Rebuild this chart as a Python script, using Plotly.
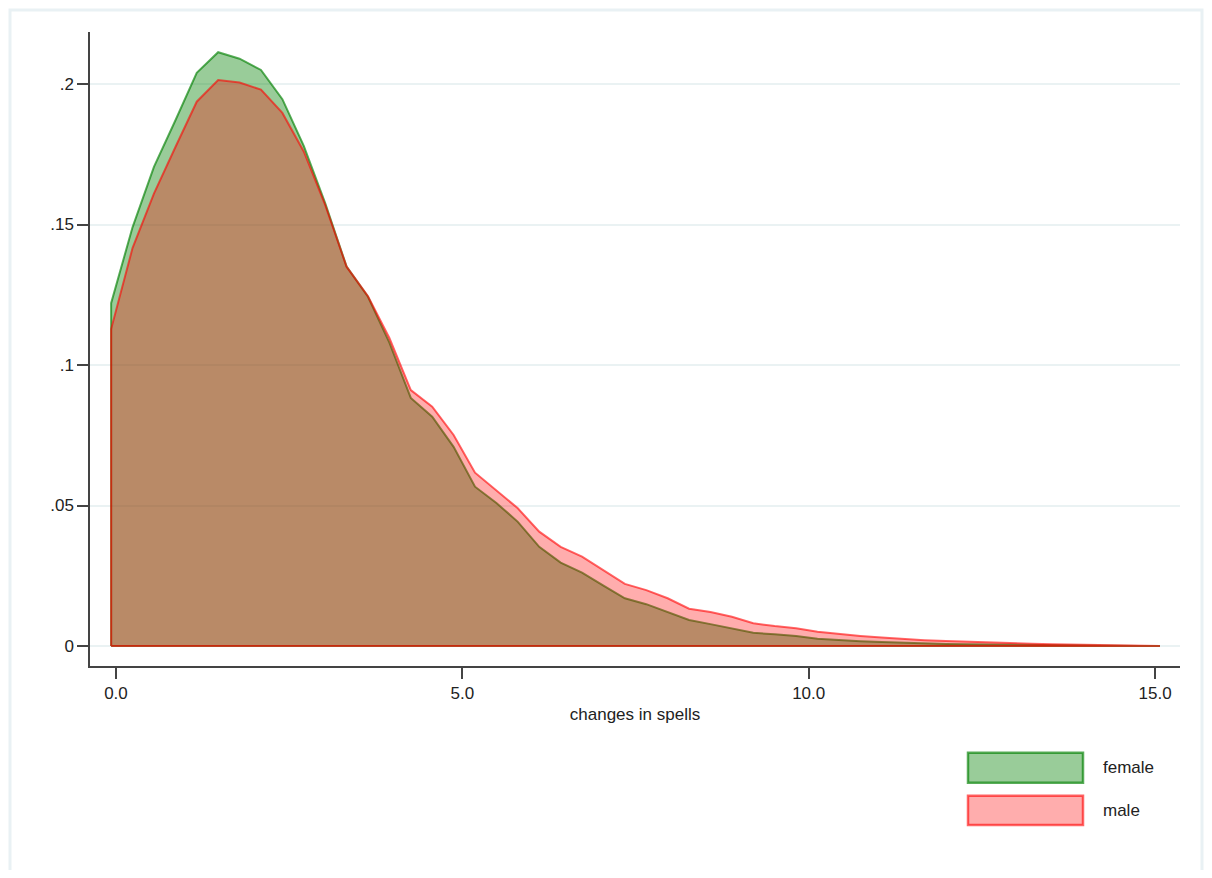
import numpy as np
import plotly.graph_objects as go

# evaluation grid of the density (50 points)
x_start = -0.07
x_step = 0.309
n_points = 50
grid = [round(x_start + x_step * i, 3) for i in range(n_points)]

female = [0.122, 0.149, 0.1705, 0.187, 0.204, 0.2113, 0.209, 0.205, 0.1946, 0.178,
          0.1576, 0.135, 0.1243, 0.108, 0.0883, 0.0816, 0.0709, 0.0567, 0.0509, 0.0442,
          0.0353, 0.0297, 0.0261, 0.0215, 0.017, 0.0149, 0.0122, 0.0093, 0.0078, 0.0063,
          0.0047, 0.0042, 0.0036, 0.0026, 0.0021, 0.0017, 0.0014, 0.0011, 0.0009, 0.0007,
          0.0006, 0.0005, 0.0004, 0.0003, 0.0002, 0.0002, 0.0001, 0.0001, 0.00005, 0.0]

male = [0.1128, 0.1416, 0.161, 0.1775, 0.1937, 0.2014, 0.2005, 0.198, 0.1897, 0.176,
        0.157, 0.135, 0.1245, 0.1096, 0.0911, 0.0852, 0.0751, 0.0617, 0.0555, 0.049,
        0.0407, 0.0353, 0.0318, 0.027, 0.0221, 0.0199, 0.017, 0.0133, 0.0121, 0.0104,
        0.0081, 0.0071, 0.0063, 0.0051, 0.0043, 0.0036, 0.0030, 0.0025, 0.0021, 0.0018,
        0.0015, 0.0012, 0.0010, 0.0008, 0.0006, 0.0005, 0.0003, 0.0002, 0.0001, 0.0]

series_names = ["female", "male"]
x_tickvals = [0, 5, 10, 15]
x_ticktext = ["0.0", "5.0", "10.0", "15.0"]
y_tickvals = [0, 0.05, 0.1, 0.15, 0.2]
y_ticktext = ["0", ".05", ".1", ".15", ".2"]

fills = ["rgba(0,128,0,0.4)", "rgba(255,0,0,0.32)"]
lines = ["rgba(0,128,0,0.65)", "rgba(255,0,0,0.6)"]

FONT = "Liberation Sans, Arial, sans-serif"

fig = go.Figure()
for name, ys, fc, lc in zip(series_names, [female, male], fills, lines):
    px = [grid[0]] + grid + [grid[-1], grid[0]]
    py = [0] + ys + [0, 0]
    fig.add_trace(go.Scatter(x=px, y=py, mode="lines", fill="toself",
                             fillcolor=fc, line=dict(color=lc, width=2),
                             name=name, showlegend=False, hoverinfo="skip"))

# plot area on screen: x 90..1180 px, y 32..666 px (page has 8px body margin)
def px_x(p):
    return (p - 90) / 1090.0

def px_y(p):
    return (666 - p) / 634.0

shapes = []
annotations = []
# legend boxes
leg_boxes = [(752.7, 782.7), (795.7, 825.0)]
for name, fc, lc, (ya, yb) in zip(series_names, fills, lines, leg_boxes):
    shapes.append(dict(type="rect", xref="paper", yref="paper",
                       x0=px_x(968), x1=px_x(1083), y0=px_y(yb), y1=px_y(ya),
                       fillcolor=fc, line=dict(color=lc, width=2.5)))
    annotations.append(dict(text=name, xref="paper", yref="paper",
                            x=px_x(1101), y=px_y((ya + yb) / 2), xanchor="left",
                            yanchor="middle", showarrow=False,
                            font=dict(size=17, color="#222222", family=FONT)))
# outer frame
shapes.append(dict(type="rect", xref="paper", yref="paper",
                   x0=px_x(10), x1=px_x(1202), y0=px_y(900), y1=px_y(10),
                   fillcolor="rgba(0,0,0,0)", line=dict(color="#E9F1F4", width=3),
                   layer="below"))

fig.update_layout(
    width=1196, height=862,
    margin=dict(l=82, r=24, t=24, b=204),
    paper_bgcolor="white", plot_bgcolor="white",
    showlegend=False,
    shapes=shapes, annotations=annotations,
    font=dict(family=FONT, size=17, color="#222222"),
)
fig.update_xaxes(range=[-0.375, 15.36], tickvals=x_tickvals, ticktext=x_ticktext,
                 showgrid=False, zeroline=False, showline=True, linecolor="#444444",
                 linewidth=1.5, ticks="outside", ticklen=11, tickwidth=1.5,
                 tickcolor="#444444", tickfont=dict(size=17, family=FONT, color="#222222"),
                 title=dict(text="changes in spells", standoff=6,
                            font=dict(size=17, family=FONT, color="#222222")))
fig.update_yaxes(range=[-0.0071, 0.2185], tickvals=y_tickvals, ticktext=y_ticktext,
                 showgrid=True, gridcolor="#EAF2F3", gridwidth=1.5, zeroline=False,
                 showline=True, linecolor="#444444", linewidth=1.5, ticks="outside",
                 ticklen=11, tickwidth=1.5, tickcolor="#444444",
                 tickfont=dict(size=17, family=FONT, color="#222222"))

fig.write_html("out.html")
